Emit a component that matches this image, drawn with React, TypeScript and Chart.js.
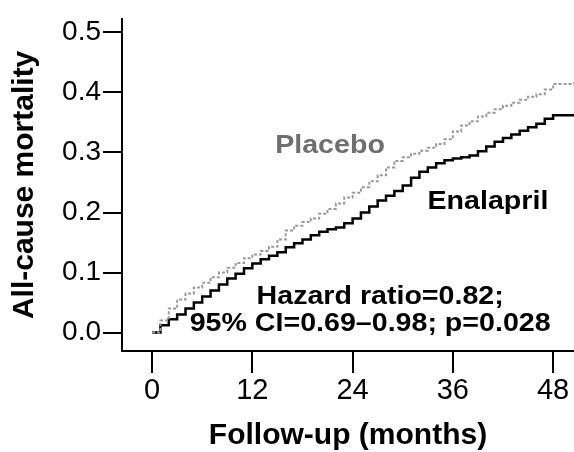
import React, { useEffect, useRef } from "react";
import { Chart, registerables } from "chart.js";

Chart.register(...registerables);

const months = [0,1,2,3,4,5,6,7,8,9,10,11,12,13,14,15,16,17,18,19,20,21,22,23,24,25,26,27,28,29,30,31,32,33,34,35,36,37,38,39,40,41,42,43,44,45,46,47,48,50.5];
const enalapril = [0,0.012,0.022,0.03,0.04,0.05,0.06,0.07,0.08,0.09,0.098,0.107,0.115,0.122,0.128,0.134,0.142,0.149,0.155,0.162,0.168,0.172,0.175,0.182,0.19,0.2,0.21,0.22,0.228,0.236,0.245,0.258,0.268,0.275,0.282,0.287,0.29,0.292,0.295,0.302,0.31,0.318,0.324,0.33,0.336,0.342,0.348,0.356,0.362,0.362];
const placebo = [0,0.02,0.04,0.055,0.065,0.075,0.083,0.092,0.1,0.108,0.116,0.124,0.13,0.136,0.143,0.155,0.17,0.178,0.184,0.19,0.198,0.206,0.215,0.225,0.233,0.242,0.252,0.262,0.275,0.286,0.292,0.298,0.303,0.308,0.314,0.322,0.335,0.345,0.352,0.36,0.366,0.372,0.378,0.383,0.388,0.393,0.397,0.405,0.414,0.417];
const xTicks = [0, 12, 24, 36, 48];
const yTicks = [0, 0.1, 0.2, 0.3, 0.4, 0.5];
const xTitle = "Follow-up (months)";
const yTitle = "All-cause mortality";

const FONT = "'Liberation Sans', Arial, Helvetica, sans-serif";

const labels = [
  { text: "Placebo", x: 21.3, y: 0.311, color: "#6e6e6e" },
  { text: "Enalapril", x: 40.2, y: 0.217, color: "#000000" },
  { text: "Hazard ratio=0.82;", x: 27.3, y: 0.06, color: "#000000" },
  { text: "95% CI=0.69\u20130.98; p=0.028", x: 26.1, y: 0.0146, color: "#000000" },
];

const textPlugin = {
  id: "textPlugin",
  afterDatasetsDraw(chart: any) {
    const { ctx, scales } = chart;
    for (const l of labels) {
      ctx.save();
      ctx.font = `bold 26px ${FONT}`;
      ctx.textAlign = "center";
      ctx.textBaseline = "middle";
      ctx.fillStyle = l.color;
      ctx.translate(scales.x.getPixelForValue(l.x), scales.y.getPixelForValue(l.y));
      ctx.scale(1.1, 1);
      ctx.fillText(l.text, 0, 0);
      ctx.restore();
    }
  },
};

export default function App() {
  const ref = useRef<HTMLCanvasElement>(null);
  useEffect(() => {
    document.body.style.margin = "0";
    const chart = new Chart(ref.current!, {
      type: "line",
      data: {
        datasets: [
          {
            label: "Placebo",
            data: months.map((m, i) => ({ x: m, y: placebo[i] })),
            borderColor: "#9a9a9a",
            borderWidth: 2,
            borderDash: [3, 2],
            stepped: true,
            pointRadius: 0,
          },
          {
            label: "Enalapril",
            data: months.map((m, i) => ({ x: m, y: enalapril[i] })),
            borderColor: "#000000",
            borderWidth: 2.5,
            stepped: true,
            pointRadius: 0,
          },
        ],
      },
      options: {
        animation: false,
        responsive: false,
        layout: { padding: { top: 9, right: 0, bottom: 0, left: 0 } },
        plugins: { legend: { display: false }, tooltip: { enabled: false } },
        scales: {
          x: {
            type: "linear",
            min: -3.6,
            max: 50.5,
            afterBuildTicks: (s: any) => { s.ticks = xTicks.map((v) => ({ value: v })); },
            afterFit: (s: any) => { s.height = 101; },
            grid: { display: true, drawOnChartArea: false, drawTicks: true, tickLength: 22, color: "#000", lineWidth: 2 },
            border: { display: true, color: "#000", width: 2 },
            ticks: { color: "#000", padding: 1, maxRotation: 0, font: { family: FONT, size: 29 } },
            title: { display: true, text: xTitle, color: "#000", padding: { top: 0, bottom: 1 }, font: { family: FONT, size: 30, weight: "bold", lineHeight: 1 } },
          },
          y: {
            type: "linear",
            min: -0.0307,
            max: 0.5227,
            afterBuildTicks: (s: any) => { s.ticks = yTicks.map((v) => ({ value: v })); },
            afterFit: (s: any) => { s.width = 122; },
            grid: { display: true, drawOnChartArea: false, drawTicks: true, tickLength: 19, color: "#000", lineWidth: 2 },
            border: { display: true, color: "#000", width: 2 },
            ticks: { color: "#000", padding: 2, font: { family: FONT, size: 28 }, callback: (v: any) => Number(v).toFixed(1) },
            title: { display: true, text: yTitle, color: "#000", padding: { top: 7, bottom: 0 }, font: { family: FONT, size: 30, weight: "bold", lineHeight: 1.2 } },
          },
        },
      },
      plugins: [textPlugin],
    });
    return () => chart.destroy();
  }, []);
  return (
    <div style={{ width: 574, height: 452 }}>
      <canvas ref={ref} width={574} height={452} />
    </div>
  );
}
